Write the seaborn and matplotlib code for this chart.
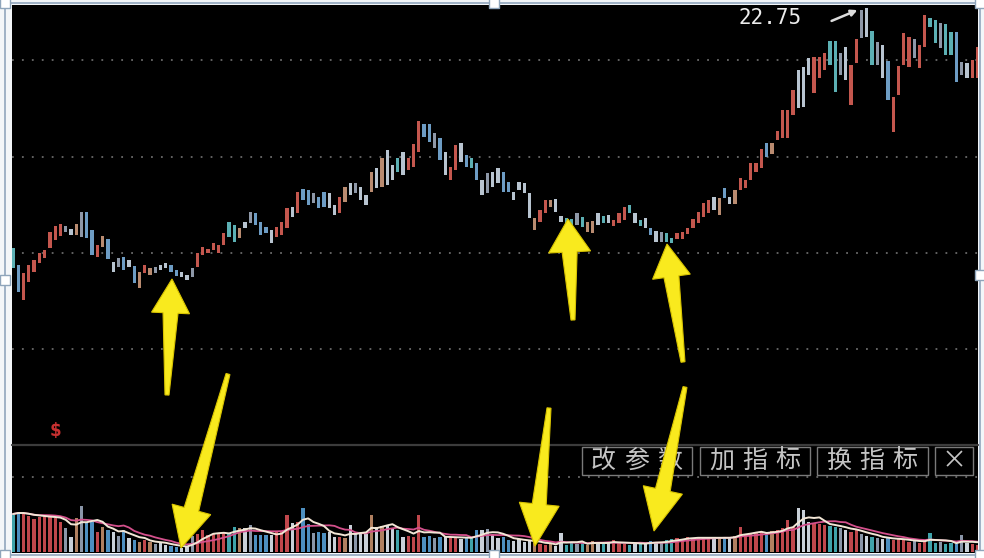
import numpy as np
import pandas as pd
import matplotlib
matplotlib.use("Agg")
import matplotlib.pyplot as plt
import seaborn as sns
from matplotlib.patches import Polygon, Rectangle, FancyArrowPatch
from matplotlib.lines import Line2D

# ---------------- data ----------------
highs = [17.95, 17.61, 17.45, 17.61, 17.71, 17.85, 17.91, 18.27, 18.39, 18.43,
         18.39, 18.33, 18.43, 18.67, 18.67, 18.31, 18.01, 18.19, 18.13, 17.67,
         17.75, 17.77, 17.71, 17.59, 17.47, 17.61, 17.55, 17.57, 17.61, 17.65,
         17.61, 17.51, 17.47, 17.41, 17.55, 17.85, 17.97, 17.93, 18.05, 18.01,
         18.25, 18.47, 18.41, 18.35, 18.47, 18.67, 18.65, 18.47, 18.37, 18.31,
         18.37, 18.47, 18.75, 18.77, 19.07, 19.13, 19.11, 19.05, 18.97, 19.07,
         19.05, 18.81, 18.97, 19.17, 19.25, 19.25, 19.17, 19.01, 19.47, 19.55,
         19.75, 19.91, 19.61, 19.75, 19.87, 19.75, 20.03, 20.49, 20.43, 20.43,
         20.25, 20.15, 19.87, 19.57, 20.01, 20.05, 19.81, 19.75, 19.65, 19.31,
         19.45, 19.47, 19.55, 19.47, 19.27, 19.07, 19.27, 19.25, 19.05, 18.55,
         18.71, 18.91, 18.91, 18.93, 18.59, 18.55, 18.53, 18.65, 18.57, 18.47,
         18.49, 18.65, 18.59, 18.61, 18.51, 18.65, 18.77, 18.81, 18.65, 18.51,
         18.55, 18.35, 18.29, 18.27, 18.25, 18.15, 18.25, 18.27, 18.35, 18.53,
         18.67, 18.85, 18.91, 18.97, 18.95, 19.15, 18.97, 19.11, 19.35, 19.31,
         19.65, 19.65, 19.93, 20.05, 20.05, 20.29, 20.71, 20.71, 21.11, 21.51,
         21.57, 21.75, 21.77, 21.77, 21.85, 22.09, 22.09, 21.85, 21.97, 21.61,
         22.13, 22.71, 22.75, 22.29, 22.07, 22.01, 21.69, 20.97, 21.59, 22.25,
         22.17, 22.13, 22.01, 22.61, 22.55, 22.51, 22.45, 22.43, 22.27, 22.27,
         21.67, 21.65, 21.71, 21.97]
lows = [17.55, 17.07, 16.91, 17.27, 17.47, 17.65, 17.75, 17.95, 18.11, 18.19,
        18.27, 18.21, 18.21, 18.17, 18.15, 17.81, 17.77, 17.97, 17.73, 17.47,
        17.57, 17.51, 17.57, 17.25, 17.15, 17.45, 17.41, 17.45, 17.51, 17.55,
        17.47, 17.39, 17.37, 17.31, 17.37, 17.57, 17.81, 17.85, 17.91, 17.85,
        18.01, 18.17, 18.07, 18.15, 18.35, 18.45, 18.41, 18.21, 18.25, 18.05,
        18.17, 18.21, 18.35, 18.57, 18.65, 18.91, 18.81, 18.85, 18.75, 18.77,
        18.75, 18.61, 18.65, 18.87, 19.01, 19.05, 18.91, 18.81, 19.07, 19.15,
        19.17, 19.21, 19.31, 19.47, 19.41, 19.51, 19.57, 19.87, 20.17, 20.07,
        19.95, 19.71, 19.41, 19.31, 19.51, 19.67, 19.57, 19.55, 19.31, 19.01,
        19.05, 19.17, 19.25, 19.07, 19.07, 18.91, 19.11, 19.05, 18.55, 18.31,
        18.47, 18.65, 18.77, 18.67, 18.47, 18.41, 18.37, 18.41, 18.37, 18.27,
        18.25, 18.41, 18.45, 18.45, 18.39, 18.45, 18.51, 18.65, 18.45, 18.39,
        18.35, 18.21, 18.07, 18.07, 18.07, 18.05, 18.13, 18.13, 18.23, 18.35,
        18.45, 18.57, 18.65, 18.71, 18.61, 18.95, 18.83, 18.83, 19.11, 19.15,
        19.31, 19.47, 19.55, 19.77, 19.83, 20.11, 20.15, 20.15, 20.61, 20.75,
        20.77, 21.41, 21.05, 21.35, 21.51, 21.61, 21.07, 21.41, 21.31, 20.81,
        21.65, 22.15, 22.17, 21.61, 21.61, 21.35, 20.91, 20.27, 21.01, 21.61,
        21.57, 21.75, 21.55, 21.97, 22.37, 22.05, 21.95, 21.81, 21.81, 21.27,
        21.41, 21.35, 21.35, 21.35]
candle_colors = ("t b r r r r r r r r  g l n g b b r n b l  g b l b n r n g l l  "
                 "b b l l g r r r r r  r t t n l g b b b l  r r r l r b b g b b  "
                 "l l r n l g l l n l  n l l t l r r r b b  g b l r r l b t b l  "
                 "g l l b b l l l l n  r r n l l t t g t n  n l t l r r r t l t  "
                 "l b l g t t r r r r  r r r l n b l n r r  r r r b n r r r r l  "
                 "l l r r r t t g l r  r g l t g l b r r r  r g r r t t g t t b  "
                 "g l r r").split()
volumes = [38, 40, 39, 36, 33, 35, 37, 36, 34, 30,
           24, 15, 34, 46, 30, 30, 20, 25, 22, 20,
           16, 22, 14, 12, 10, 12, 10, 8, 9, 7,
           6, 5, 4, 5, 16, 18, 22, 17, 18, 19,
           20, 19, 25, 24, 24, 27, 17, 17, 17, 17,
           20, 21, 37, 29, 30, 44, 28, 19, 20, 19,
           20, 15, 15, 14, 27, 19, 20, 18, 37, 25,
           26, 27, 24, 22, 15, 16, 15, 37, 15, 16,
           14, 15, 16, 14, 15, 13, 14, 15, 22, 22,
           23, 17, 14, 15, 12, 11, 13, 10, 12, 9,
           8, 7, 8, 6, 19, 7, 9, 8, 10, 7,
           11, 9, 8, 10, 12, 9, 8, 7, 9, 10,
           8, 11, 9, 10, 12, 13, 14, 13, 15, 14,
           15, 14, 13, 15, 14, 15, 14, 16, 25, 18,
           19, 19, 20, 19, 21, 22, 24, 32, 25, 44,
           42, 30, 29, 28, 27, 26, 25, 24, 22, 20,
           22, 18, 16, 15, 14, 13, 14, 12, 13, 12,
           10, 11, 9, 12, 19, 9, 10, 8, 9, 8,
           17, 9, 8, 7]
price_grid = [21.71, 19.77, 17.85, 15.93]
vol_grid = [75]
peak_label = "22.75"
buttons = ["改参数", "加指标", "换指标", "×"]

# ---------------- style ----------------
sns.set_style("dark", {"axes.facecolor": "black"})
plt.rcParams['font.family'] = ['DejaVu Sans']

candle_pal = {"r": "#c4574e", "b": "#6d9cc4", "t": "#5cb0b4",
              "l": "#b8c4d0", "g": "#8e98a8", "n": "#b98b70"}
vol_pal = {"r": "#c0474c", "b": "#4d8fc0", "t": "#3fa3aa",
           "l": "#c9d0d8", "g": "#8a96a8", "n": "#b08060"}

W, H = 984, 558
fig = plt.figure(figsize=(W / 100, H / 100), dpi=100, facecolor="#f3f6f9")


def fx(x):
    return x / W


def fy(y):
    return 1 - y / H


# black background panel
fig.add_artist(Rectangle((fx(12), fy(553)), (978 - 12) / W, (553 - 5) / H,
                         transform=fig.transFigure, facecolor="black",
                         edgecolor="none", zorder=0))

ax = fig.add_axes([fx(12), fy(445), (978 - 12) / W, (445 - 5) / H])
axv = fig.add_axes([fx(12), fy(553), (978 - 12) / W, (553 - 445) / H])

n = len(highs)
idx = np.arange(n)
hi = np.array(highs)
lo = np.array(lows)

# price candles
ax.bar(idx, hi - lo, bottom=lo, width=0.62,
       color=[candle_pal[c] for c in candle_colors], linewidth=0, zorder=3)
for g in price_grid:
    ax.axhline(g, color="#6a6a6a", lw=1.3, ls=(0, (1, 4.5)), zorder=1)
ax.set_xlim(-0.19, 183.1)
ax.set_ylim(14.01, 22.81)

# volume panel
df = pd.DataFrame({"i": idx, "vol": volumes, "c": candle_colors})
sns.barplot(data=df, x="i", y="vol", hue="c", palette=vol_pal, dodge=False,
            native_scale=True, width=0.62, saturation=1, errorbar=None,
            legend=False, ax=axv, linewidth=0, zorder=3)
ma5 = df["vol"].rolling(5, min_periods=1).mean()
ma10 = df["vol"].rolling(10, min_periods=1).mean()
sns.lineplot(x=idx, y=ma10.values, ax=axv, color="#d4508c", lw=1.3, zorder=4)
sns.lineplot(x=idx, y=ma5.values, ax=axv, color="#f2e6d6", lw=1.4, zorder=5)
for g in vol_grid:
    axv.axhline(g, color="#6a6a6a", lw=1.3, ls=(0, (1, 4.5)), zorder=1)
axv.set_xlim(-0.19, 183.1)
axv.set_ylim(-1, 107)

for a in (ax, axv):
    a.set_facecolor("none")
    a.set_xticks([])
    a.set_yticks([])
    a.set_xlabel("")
    a.set_ylabel("")
    a.grid(False)
    for s in a.spines.values():
        s.set_visible(False)

# separator between panels
fig.add_artist(Line2D([fx(12), fx(978)], [fy(445), fy(445)],
                      transform=fig.transFigure, color="#3c3c3c", lw=1.6, zorder=2))

# peak label and pointer
fig.text(fx(770), fy(18), peak_label, color="#ececec", fontsize=15,
         family="DejaVu Sans Mono", ha="center", va="center", zorder=10)
fig.add_artist(FancyArrowPatch((fx(829), fy(22)), (fx(860), fy(9)),
                               transform=fig.transFigure, arrowstyle="-|>",
                               mutation_scale=9, color="#dcdcdc", lw=1.8, zorder=10))

# red symbol
fig.text(fx(55), fy(431), "$", color="#c83030", fontsize=12, fontweight="bold",
         ha="center", va="center", zorder=10)

# buttons
boxes = [(582, 692), (700, 810), (817, 928), (935, 973)]
char_x = [[603, 637, 670], [722, 755, 788], [839, 872, 905], [954]]
for label, (x0, x1), xs in zip(buttons, boxes, char_x):
    fig.add_artist(Rectangle((fx(x0), fy(475)), (x1 - x0) / W, 28 / H,
                             transform=fig.transFigure, facecolor="black",
                             edgecolor="#7a7a7a", lw=1.0, zorder=6))
    for ch, cx in zip(label, xs):
        fig.text(fx(cx), fy(461), ch, color="#c4c4c4", fontsize=18,
                 family=["Noto Sans CJK SC", "DejaVu Sans"],
                 ha="center", va="center", zorder=7)

# yellow arrows
def arrow_poly(tip, tail, head_len, head_w, shaft_w, tail_w):
    tip = np.array(tip, float)
    tail = np.array(tail, float)
    d = (tip - tail) / np.linalg.norm(tip - tail)
    nrm = np.array([-d[1], d[0]])
    base = tip - d * head_len
    pts = [tip, base + nrm * head_w / 2, base + nrm * shaft_w / 2,
           tail + nrm * tail_w / 2, tail - nrm * tail_w / 2,
           base - nrm * shaft_w / 2, base - nrm * head_w / 2]
    return [(fx(p[0]), fy(p[1])) for p in pts]


arrows = [((172, 279), (167, 395), 34, 38, 15, 4),
          ((181, 548), (228, 374), 40, 40, 15, 4),
          ((568, 219), (573, 320), 33, 42, 15, 4),
          ((535, 546), (549, 408), 42, 40, 14, 4),
          ((667, 244), (683, 362), 33, 38, 15, 4),
          ((654, 531), (685, 387), 42, 40, 15, 4)]
for a in arrows:
    fig.add_artist(Polygon(arrow_poly(*a), closed=True, transform=fig.transFigure,
                           facecolor="#f9ea1e", edgecolor="#d9c400", lw=0.8, zorder=12))

# selection frame and handles
frame_col = "#9fb2c6"
fig.add_artist(Rectangle((fx(5), fy(555)), (980 - 5) / W, (555 - 3) / H,
                         transform=fig.transFigure, facecolor="none",
                         edgecolor=frame_col, lw=1.4, zorder=13))
for (hx, hy) in [(494, 3), (5, 280), (980, 275), (494, 555),
                 (5, 3), (980, 3), (5, 555), (980, 555)]:
    fig.add_artist(Rectangle((fx(hx - 5), fy(hy + 5)), 10 / W, 10 / H,
                             transform=fig.transFigure, facecolor="white",
                             edgecolor="#8fa5bb", lw=1.0, zorder=14))

fig.savefig("out.png", dpi=100, facecolor=fig.get_facecolor())
